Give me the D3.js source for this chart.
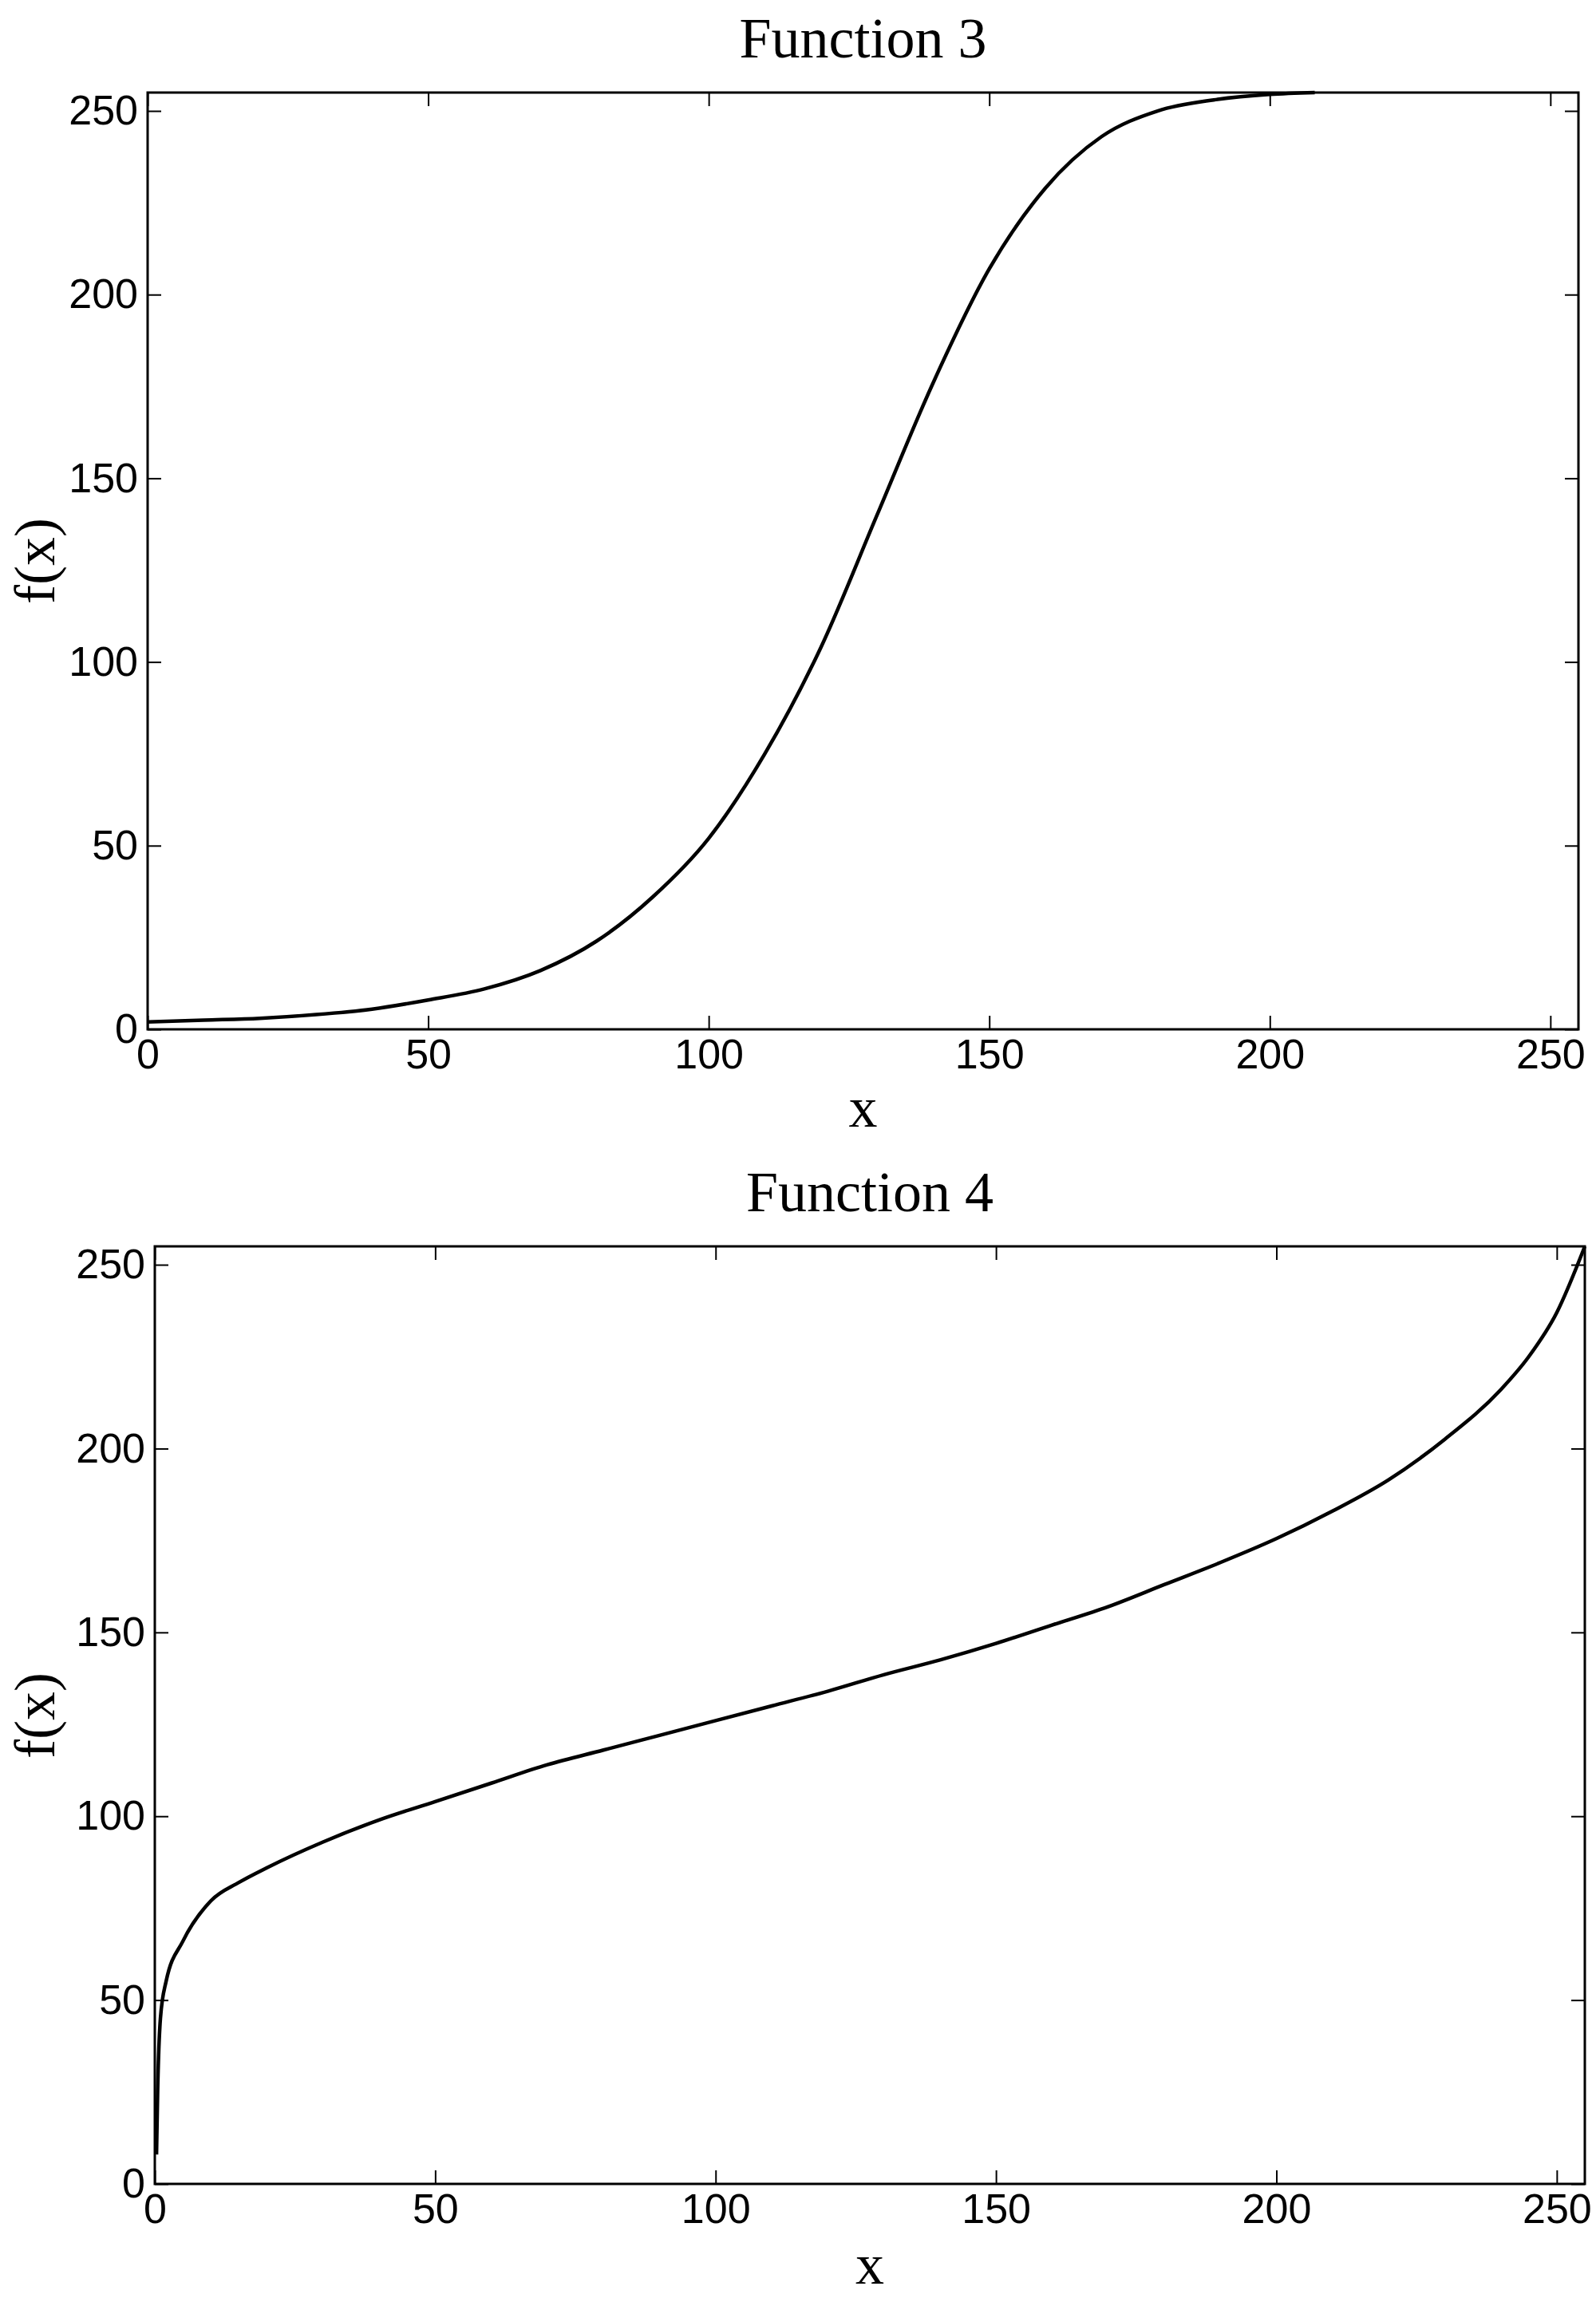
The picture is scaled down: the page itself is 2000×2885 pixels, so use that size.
<!DOCTYPE html>
<html><head><meta charset="utf-8">
<script src="https://cdn.jsdelivr.net/npm/d3@7"></script>
<style>body{margin:0;background:#fff}</style></head>
<body><svg id="c" width="2000" height="2885"></svg>
<script>
const titles = ["Function 3", "Function 4"];
const tickValues = [0, 50, 100, 150, 200, 250];
const f3x = [0,10,20,30,40,50,60,70,80,90,100,110,120,130,140,150,160,170,180,190,200,208];
const f3y = [2,2.5,3,4,5.5,8,11,16,24,36,52,75,104,140,176,207,229,243,250,253,254.5,255];
const f4x = [0.3,0.5,1,2,5,10,15,20,30,40,50,60,70,80,90,100,110,120,130,140,150,160,170,180,190,200,210,220,230,240,245,250,255];
const f4y = [8,25,45,55,66,77,82,86,93,99,104,109,114,118,122,126,130,134,138.5,142.5,147,152,157,163,169,175.5,183,191.5,202.5,216,225,237,255];

const svg = d3.select("#c");
const panels = [
  {l:185, r:1978, t:116, b:1290, xs:f3x, ys:f3y, titleY:72, xlabY:1412, ylabY:703},
  {l:194, r:1986, t:1562, b:2737, xs:f4x, ys:f4y, titleY:1518, xlabY:2862, ylabY:2150}
];
panels.forEach((p,i)=>{
  const x = d3.scaleLinear().domain([0,255]).range([p.l,p.r]);
  const y = d3.scaleLinear().domain([0,255]).range([p.b,p.t]);
  const g = svg.append("g");
  const style = sel => { sel.select(".domain").remove();
    sel.selectAll("line").attr("stroke","#000").attr("stroke-width",2);
    sel.selectAll("text").attr("font-family","Liberation Sans, Arial").attr("font-size",52).attr("fill","#000"); };
  g.append("g").attr("transform",`translate(0,${p.b})`)
    .call(d3.axisBottom(x).tickValues(tickValues).tickSize(-17).tickPadding(12).tickFormat(d3.format("d"))).call(style);
  g.append("g").attr("transform",`translate(0,${p.t})`)
    .call(d3.axisTop(x).tickValues(tickValues).tickSize(-17).tickFormat("")).call(style);
  g.append("g").attr("transform",`translate(${p.l},0)`)
    .call(d3.axisLeft(y).tickValues(tickValues).tickSize(-17).tickPadding(12).tickFormat(d3.format("d"))).call(style);
  g.append("g").attr("transform",`translate(${p.r},0)`)
    .call(d3.axisRight(y).tickValues(tickValues).tickSize(-17).tickFormat("")).call(style);
  g.append("rect").attr("x",p.l).attr("y",p.t).attr("width",p.r-p.l).attr("height",p.b-p.t)
    .attr("fill","none").attr("stroke","#000").attr("stroke-width",3);
  const data = p.xs.map((v,k)=>[v,p.ys[k]]);
  g.append("path").datum(data).attr("fill","none").attr("stroke","#000").attr("stroke-width",4.5)
    .attr("d", d3.line().x(d=>x(d[0])).y(d=>y(d[1])).curve(d3.curveMonotoneX));
  const serif = "Liberation Serif, Times New Roman, serif";
  g.append("text").attr("x",(p.l+p.r)/2).attr("y",p.titleY).attr("text-anchor","middle")
    .attr("font-family",serif).attr("font-size",72).text(titles[i]);
  g.append("text").attr("x",(p.l+p.r)/2).attr("y",p.xlabY).attr("text-anchor","middle")
    .attr("font-family",serif).attr("font-size",72).text("x");
  g.append("text").attr("transform",`translate(68,${p.ylabY}) rotate(-90)`).attr("text-anchor","middle")
    .attr("font-family",serif).attr("font-size",72).text("f(x)");
});
</script></body></html>
